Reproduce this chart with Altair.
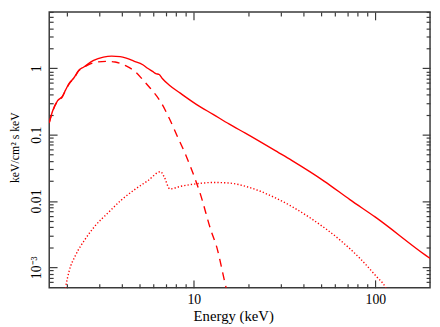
import json
import altair as alt
import pandas as pd

# ---- data (energy in keV, flux in keV/cm^2 s keV) ----
total_energy = [1.6, 1.67, 1.78, 1.89, 1.97, 2.06, 2.19, 2.33, 2.48, 2.81, 3.18, 3.53,
                3.93, 4.25, 4.68, 5.24, 5.57, 5.93, 6.18, 6.45, 6.71, 7.37, 8.43, 10.38,
                12.78, 15.71, 19.34, 29.28, 34.6, 52.4, 72.4, 99.6, 189.4, 200]
total_flux = [0.152, 0.227, 0.326, 0.378, 0.475, 0.594, 0.722, 0.939, 1.051, 1.32, 1.477, 1.529,
              1.503, 1.428, 1.289, 1.136, 1.005, 0.901, 0.836, 0.808, 0.705, 0.553, 0.423, 0.2846,
              0.2024, 0.1439, 0.1045, 0.0537, 0.0409, 0.01978, 0.01046, 0.00574, 0.001508, 0.001357]

bb_energy = [1.6, 1.67, 1.78, 1.89, 1.97, 2.06, 2.19, 2.33, 2.48, 2.59, 2.93, 3.3, 3.69,
             4.24, 4.74, 5.3, 5.75, 6.63, 7.37, 8.09, 8.97, 9.75, 10.82, 12.51, 13.31, 15.08, 15.2]
bb_flux = [0.15, 0.224, 0.322, 0.373, 0.468, 0.586, 0.712, 0.925, 1.035, 1.113, 1.246, 1.276, 1.246,
           1.087, 0.901, 0.652, 0.505, 0.3006, 0.1707, 0.0966, 0.0517, 0.0293, 0.01323, 0.00342,
           0.00212, 0.000489, 0.00045]

refl_energy = [1.965, 1.975, 2.058, 2.237, 2.534, 2.87, 3.387, 3.996, 4.722, 5.57, 6.57, 6.86,
               7.39, 8.43, 10.38, 12.78, 15.71, 19.34, 28.1, 44.4, 64.5, 82.7, 101.6, 112.8, 115]
refl_flux = [0.00048, 0.000519, 0.000865, 0.001523, 0.00269, 0.00424, 0.00669, 0.01035, 0.0148,
             0.0201, 0.0276, 0.0233, 0.01517, 0.01657, 0.01816, 0.019, 0.01862, 0.01657, 0.01116,
             0.0054, 0.002514, 0.001338, 0.000719, 0.000517, 0.00047]

x_domain = [1.6, 200]
y_domain = [4.9e-4, 7.1]

x_major = [10, 100]
x_major_labels = ["10", "100"]
x_minor = [2, 3, 4, 5, 6, 7, 8, 9, 20, 30, 40, 50, 60, 70, 80, 90]

y_major = [0.001, 0.01, 0.1, 1]
y_major_labels = ["10⁻³", "0.01", "0.1", "1"]
y_minor = [0.0006, 0.0007, 0.0008, 0.0009,
           0.002, 0.003, 0.004, 0.005, 0.006, 0.007, 0.008, 0.009,
           0.02, 0.03, 0.04, 0.05, 0.06, 0.07, 0.08, 0.09,
           0.2, 0.3, 0.4, 0.5, 0.6, 0.7, 0.8, 0.9,
           2, 3, 4, 5, 6, 7]

FONT = "Liberation Serif, Times New Roman, serif"
RED = "#ff0000"
FRAME = "#3a3a3a"


def label_expr(vals, labels):
    expr = "''"
    for v, l in reversed(list(zip(vals, labels))):
        expr = f"datum.value == {v} ? '{l}' : ({expr})"
    return expr


def tick_style(major):
    test = f"indexof({json.dumps(major)}, datum.value) < 0"
    return dict(
        tickDash={"condition": {"test": test, "value": [4, 4]}, "value": [10, 0]},
        tickDashOffset={"condition": {"test": test, "value": 4}, "value": 0},
    )


common_tick = dict(offset=-8, tickSize=8, tickColor=FRAME, tickWidth=1.2,
                   domain=False, grid=False)

x_bottom = alt.Axis(
    orient="bottom", values=x_major + x_minor, **common_tick, **tick_style(x_major),
    labelExpr=label_expr(x_major, x_major_labels), labelFont=FONT, labelFontSize=14,
    labelColor="#000", labelPadding=16, labelBaseline="alphabetic", labelOverlap=False,
    labelFlush=False, title="Energy (keV)", titleFont=FONT, titleFontSize=15,
    titleFontWeight="normal", titleColor="#000", titleX=187.5, titleY=41.5,
    titleAlign="center", titleBaseline="alphabetic",
)
y_left = alt.Axis(
    orient="left", values=y_major + y_minor, **common_tick, **tick_style(y_major),
    labelExpr=label_expr(y_major, y_major_labels), labelFont=FONT, labelFontSize=14,
    labelColor="#000", labelPadding=9, labelAngle=270, labelAlign="center",
    labelBaseline="alphabetic", labelOverlap=False, labelFlush=False,
    title="keV/cm² s keV", titleFont=FONT, titleFontSize=12, titleFontWeight="normal",
    titleColor="#000", titleAngle=270, titleX=-39, titleY=137.7, titleAlign="center",
    titleBaseline="alphabetic",
)
x_top = alt.Axis(orient="top", values=x_major + x_minor, **common_tick,
                 **tick_style(x_major), labels=False, title=None)
y_right = alt.Axis(orient="right", values=y_major + y_minor, **common_tick,
                   **tick_style(y_major), labels=False, title=None)

xs = alt.Scale(type="log", domain=x_domain, nice=False, zero=False)
ys = alt.Scale(type="log", domain=y_domain, nice=False, zero=False)

total_df = pd.DataFrame({"E": total_energy, "F": total_flux})
bb_df = pd.DataFrame({"E": bb_energy, "F": bb_flux})
refl_df = pd.DataFrame({"E": refl_energy, "F": refl_flux})

total = alt.Chart(total_df).mark_line(color=RED, strokeWidth=1.4, clip=True,
                                      interpolate="monotone").encode(
    x=alt.X("E:Q", scale=xs, axis=x_bottom),
    y=alt.Y("F:Q", scale=ys, axis=y_left),
)
bb = alt.Chart(bb_df).mark_line(color=RED, strokeWidth=1.4, strokeDash=[8, 6], clip=True,
                                interpolate="monotone").encode(
    x=alt.X("E:Q", scale=xs, axis=None),
    y=alt.Y("F:Q", scale=ys, axis=None),
)
refl = alt.Chart(refl_df).mark_line(color=RED, strokeWidth=1.4, strokeDash=[1.3, 2.1], clip=True,
                                    interpolate="monotone").encode(
    x=alt.X("E:Q", scale=xs, axis=None),
    y=alt.Y("F:Q", scale=ys, axis=None),
)
mirror = alt.Chart(total_df).mark_line(opacity=0, clip=True).encode(
    x=alt.X("E:Q", scale=xs, axis=x_top),
    y=alt.Y("F:Q", scale=ys, axis=y_right),
)

chart = (
    alt.layer(total, bb, refl, mirror)
    .resolve_axis(x="independent", y="independent")
    .properties(
        width=388, height=281,
        padding={"left": 42, "top": 1, "right": 2, "bottom": 40},
        autosize=alt.AutoSizeParams(type="none"),
        background="white",
    )
    .configure(font=FONT)
    .configure_view(stroke=FRAME, strokeWidth=1.5)
)

chart.save("out.html", embed_options={"renderer": "svg", "actions": False})
